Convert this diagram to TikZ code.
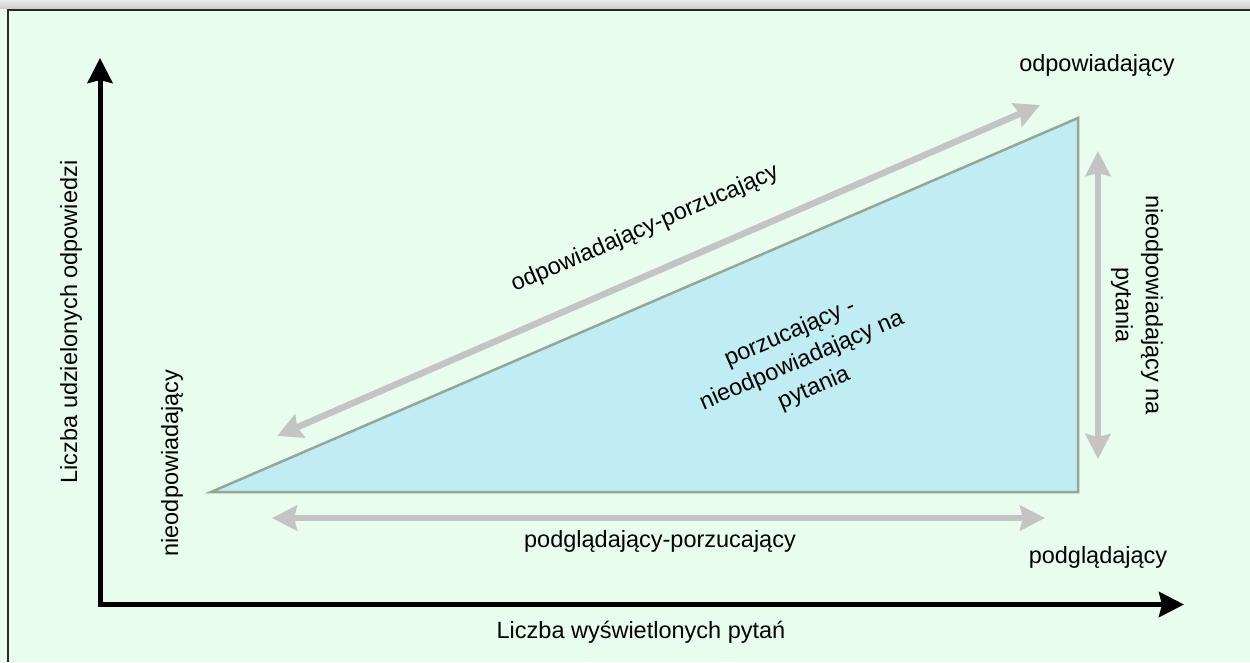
\documentclass[tikz,border=0pt]{standalone}
\usepackage{fontspec}
\setmainfont{Liberation Sans}
\usetikzlibrary{arrows.meta}
\definecolor{bgmint}{HTML}{E8FDEE}
\definecolor{trifill}{HTML}{C0EDF3}
\definecolor{triedge}{HTML}{97A597}
\definecolor{guidegray}{HTML}{C4C4C4}
\definecolor{framegray}{HTML}{2A2A2A}
\begin{document}
\begin{tikzpicture}[x=1pt,y=-1pt,
  lbl/.style={font=\fontsize{23.5}{30}\selectfont, align=center, inner sep=0pt, text=black},
  axisline/.style={line width=5pt, black, -{Stealth[length=25pt,width=25pt,inset=3pt]}},
  guidetip/.tip={Stealth[length=25pt,width=25pt,inset=3pt]},
  guideline/.style={line width=6.5pt, guidegray, guidetip-guidetip},
  region/.style={fill=trifill, draw=triedge, line width=2.5pt, line join=miter}]
  % page, background and window frame
  \useasboundingbox (0,0) rectangle (1250,662);
  \fill[bgmint] (0,0) rectangle (1250,662);
  \shade[top color=white!92!black, bottom color=white!80!black] (0,0) rectangle (1250,8.5);
  \draw[framegray, line width=2pt] (8,662) -- (8,9.5) -- (1250,9.5);

  % triangle corners
  \coordinate (tl) at (211,492);
  \coordinate (tr) at (1078,118);
  \coordinate (br) at (1078,492);
  \filldraw[region] (tl) -- (tr) -- (br) -- cycle;

  % axes
  \coordinate (origin) at (100,604.5);
  \coordinate (ytip) at (100,58);
  \coordinate (xtip) at (1184,604.5);
  \draw[axisline] ([yshift=2.5pt]origin) -- (ytip);
  \draw[axisline] ([xshift=-2.5pt]origin) -- (xtip);

  % transition arrows
  \coordinate (dlo) at (277,436);
  \coordinate (dhi) at (1040,105);
  \coordinate (hl) at (272,518);
  \coordinate (hr) at (1045,518);
  \coordinate (vt) at (1098,151);
  \coordinate (vb) at (1098,459);
  \draw[guideline] (dlo) -- (dhi);
  \draw[guideline] (hl) -- (hr);
  \draw[guideline] (vt) -- (vb);

  % labels
  \node[lbl] (answering) at (1097,65) {odpowiadający};
  \node[lbl] (lurking) at (1098,557) {podglądający};
  \node[lbl, rotate=90] (silent) at (172,463) {nieodpowiadający};
  \node[lbl, rotate=90] (yaxis) at (71,322) {Liczba udzielonych odpowiedzi};
  \node[lbl] (xaxis) at (641,632) {Liczba wyświetlonych pytań};
  \node[lbl] (lurkdrop) at (660,541) {podglądający-porzucający};
  \node[lbl, rotate=23.4] (ansdrop) at (645,229) {odpowiadający-porzucający};
  \node[lbl, rotate=-90] (noans) at (1137,305) {nieodpowiadający na\\pytania};
  \node[lbl, rotate=23.4] (dropper) at (802,361) {porzucający -\\nieodpowiadający na\\pytania};
\end{tikzpicture}
\end{document}
